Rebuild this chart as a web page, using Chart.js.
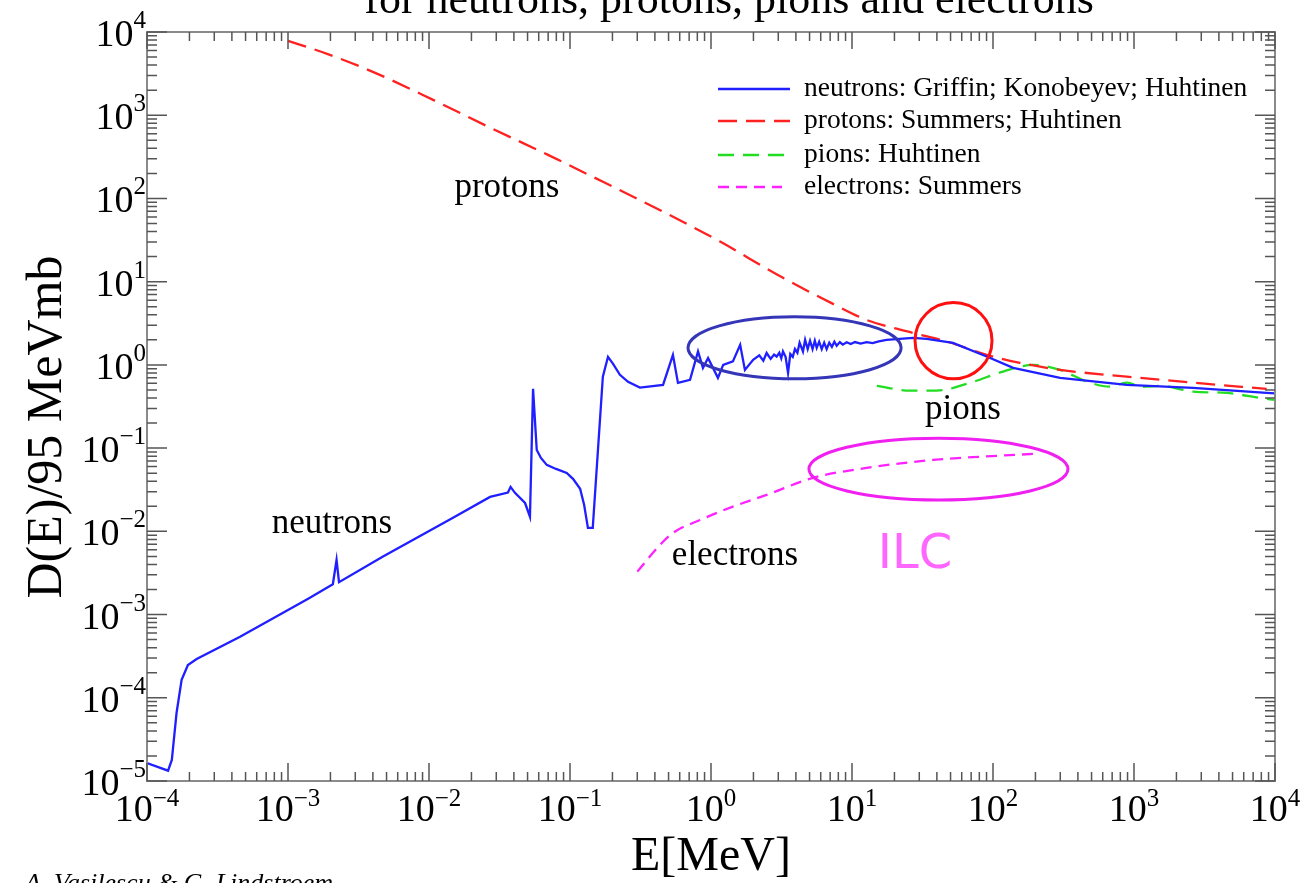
<!DOCTYPE html>
<html>
<head>
<meta charset="UTF-8">
<title>Displacement damage functions</title>
<script src="https://cdn.jsdelivr.net/npm/chart.js"></script>
<style>
  html, body { margin: 0; padding: 0; background: #fff; }
  #wrap { width: 1306px; height: 883px; position: relative; }
</style>
</head>
<body>
<div id="wrap"><canvas id="chart"></canvas></div>
<script>
// E in MeV, D(E)/95 MeVmb
var neutronE = [1.0e-4, 1.41e-4, 1.50e-4, 1.62e-4, 1.76e-4, 1.95e-4, 2.25e-4, 4.57e-4, 1.39e-3, 2.08e-3,
  2.21e-3, 2.30e-3, 4.72e-3, 1.48e-2, 2.71e-2, 3.63e-2, 3.79e-2, 4.07e-2, 4.80e-2, 5.20e-2,
  5.47e-2, 5.81e-2, 6.22e-2, 6.84e-2, 7.96e-2, 9.48e-2, 0.105, 0.118, 0.126, 0.134,
  0.145, 0.171, 0.186, 0.202, 0.226, 0.258, 0.313, 0.457, 0.537, 0.583,
  0.710, 0.809, 0.877, 0.953, 1.12, 1.22, 1.43, 1.61, 1.74, 1.99,
  2.2, 2.35, 2.48, 2.65, 2.8, 2.92, 3.05, 3.15, 3.24, 3.38,
  3.52, 3.65, 3.80, 3.94, 4.1, 4.25, 4.49, 4.65, 4.85, 5.04,
  5.25, 5.45, 5.62, 5.85, 6.1, 6.35, 6.61, 6.9, 7.2, 7.5,
  7.79, 8.2, 8.6, 9.17, 9.8, 10.5, 11.5, 12.7, 14, 15.5,
  17.6, 27.1, 33.9, 52.0, 90.2, 139, 299, 887, 2620, 8730, 1e4];
var neutronD = [1.64e-5, 1.33e-5, 1.79e-5, 6.56e-5, 1.64e-4, 2.48e-4, 2.92e-4, 5.42e-4, 1.55e-3, 2.31e-3,
  4.53e-3, 2.45e-3, 4.98e-3, 1.46e-2, 2.59e-2, 2.92e-2, 3.42e-2, 2.90e-2, 2.19e-2, 1.50e-2,
  0.515, 9.5e-2, 7.62e-2, 6.28e-2, 5.62e-2, 5.04e-2, 4.27e-2, 3.24e-2, 2.07e-2, 1.10e-2,
  1.10e-2, 0.723, 1.25, 1.03, 0.759, 0.625, 0.533, 0.575, 1.32, 0.608,
  0.661, 1.45, 0.920, 1.21, 0.698, 1.0, 1.10, 1.74, 0.871, 1.15,
  1.30, 1.12, 1.39, 1.18, 1.33, 1.26, 1.40, 1.20, 1.45, 1.25,
  0.80, 1.35, 1.25, 1.55, 1.40, 1.85, 1.45, 2.0, 1.55, 1.95,
  1.55, 1.95, 1.60, 1.90, 1.55, 1.85, 1.55, 1.85, 1.65, 1.90,
  1.70, 1.88, 1.75, 1.87, 1.78, 1.88, 1.80, 1.88, 1.83, 1.92,
  2.0, 2.11, 2.05, 1.84, 1.26, 0.920, 0.698, 0.575, 0.530, 0.460, 0.455];

var protonE = [1e-3, 1.98e-3, 4.19e-3, 1.07e-2, 2.73e-2, 6.98e-2, 0.177, 0.454, 1.16, 2.96,
  7.57, 12.7, 27.1, 47.0, 90.2, 155, 299, 887, 2620, 8730];
var protonD = [7830, 5320, 3210, 1530, 706, 334, 154, 69.7, 30.3, 12.1,
  5.26, 3.47, 2.42, 1.91, 1.32, 1.06, 0.871, 0.723, 0.612, 0.515];

var pionE = [15.0, 25.8, 39.9, 68.7, 118, 192, 299, 462, 676, 887, 1160, 1530, 2620, 4540, 7830, 1e4];
var pionD = [0.560, 0.491, 0.491, 0.608, 0.832, 1.0, 0.871, 0.630, 0.548, 0.612, 0.545, 0.560, 0.478, 0.460, 0.401, 0.379];

var electronE = [0.3, 0.435, 0.537, 0.836, 1.43, 2.48, 5.28, 12.7, 37.5, 84.9, 192];
var electronD = [3.28e-3, 6.87e-3, 9.57e-3, 1.37e-2, 1.98e-2, 2.74e-2, 4.39e-2, 5.78e-2, 7.21e-2, 7.91e-2, 8.51e-2];

var xExponents = [-4, -3, -2, -1, 0, 1, 2, 3, 4];
var yExponents = [-5, -4, -3, -2, -1, 0, 1, 2, 3, 4];

// text labels and highlight ellipses placed in data space
var curveLabels = [
  { text: "protons", x: 0.0357, y: 134 },
  { text: "neutrons", x: 2.05e-3, y: 0.0123 },
  { text: "electrons", x: 1.48, y: 5.06e-3 },
  { text: "pions", x: 61.2, y: 0.288 }
];
var ellipses = [
  { x1: 0.687, x2: 22.3, y1: 0.68, y2: 3.78, color: "#3535b8" },
  { x1: 28.0, x2: 98.4, y1: 0.68, y2: 5.61, color: "#ff1010" },
  { x1: 4.95, x2: 340, y1: 0.0238, y2: 0.1316, color: "#f020f0" }
];

function pts(xs, ys) {
  return xs.map(function (x, i) { return { x: x, y: ys[i] }; });
}

function expText(e) {
  return e < 0 ? "\u2212" + Math.abs(e) : String(e);
}

var SERIF = '"Liberation Serif", "Times New Roman", serif';

var decor = {
  id: "decor",
  afterDatasetsDraw: function (chart) {
    var ctx = chart.ctx, xs = chart.scales.x, ys = chart.scales.y, a = chart.chartArea;
    ctx.save();

    // ellipses
    ctx.setLineDash([]);
    ctx.lineWidth = 3;
    ellipses.forEach(function (e) {
      var l = xs.getPixelForValue(e.x1), r = xs.getPixelForValue(e.x2);
      var t = ys.getPixelForValue(e.y2), b = ys.getPixelForValue(e.y1);
      ctx.strokeStyle = e.color;
      ctx.beginPath();
      ctx.ellipse((l + r) / 2, (t + b) / 2, (r - l) / 2, (b - t) / 2, 0, 0, Math.PI * 2);
      ctx.stroke();
    });

    // frame
    ctx.strokeStyle = "#8a8a8a";
    ctx.lineWidth = 2;
    ctx.strokeRect(a.left, a.top, a.right - a.left, a.bottom - a.top);

    // inward ticks on all four sides
    ctx.strokeStyle = "#555";
    ctx.lineWidth = 1.5;
    ctx.beginPath();
    xExponents.forEach(function (e) {
      for (var m = 1; m <= 9; m++) {
        if (e === 4 && m > 1) break;
        var px = xs.getPixelForValue(m * Math.pow(10, e));
        var major = m === 1;
        ctx.moveTo(px, a.bottom); ctx.lineTo(px, a.bottom - (major ? 18 : 9));
        ctx.moveTo(px, a.top); ctx.lineTo(px, a.top + (major ? 17 : 9));
      }
    });
    yExponents.forEach(function (e) {
      for (var m = 1; m <= 9; m++) {
        if (e === 4 && m > 1) break;
        var py = ys.getPixelForValue(m * Math.pow(10, e));
        var major = m === 1;
        ctx.moveTo(a.left, py); ctx.lineTo(a.left + (major ? 20 : 10), py);
        ctx.moveTo(a.right, py); ctx.lineTo(a.right - (major ? 20 : 10), py);
      }
    });
    ctx.stroke();

    // tick labels 10^n
    ctx.fillStyle = "#000";
    ctx.textBaseline = "alphabetic";
    ctx.textAlign = "left";
    function pow10(exp, cb) {
      ctx.font = "38px " + SERIF;
      var w1 = ctx.measureText("10").width;
      ctx.font = "25px " + SERIF;
      var w2 = ctx.measureText(expText(exp)).width;
      cb(w1, w2);
    }
    xExponents.forEach(function (e) {
      var px = xs.getPixelForValue(Math.pow(10, e));
      pow10(e, function (w1, w2) {
        var sx = px - (w1 + w2) / 2;
        ctx.font = "38px " + SERIF; ctx.fillText("10", sx, 821);
        ctx.font = "25px " + SERIF; ctx.fillText(expText(e), sx + w1, 806);
      });
    });
    yExponents.forEach(function (e) {
      var py = ys.getPixelForValue(Math.pow(10, e));
      pow10(e, function (w1, w2) {
        var sx = a.left - 1 - (w1 + w2);
        ctx.font = "38px " + SERIF; ctx.fillText("10", sx, py + 14);
        ctx.font = "25px " + SERIF; ctx.fillText(expText(e), sx + w1, py - 4);
      });
    });

    // axis titles
    ctx.font = "48px " + SERIF;
    ctx.textAlign = "center";
    ctx.fillText("E[MeV]", (a.left + a.right) / 2, 870);
    ctx.save();
    ctx.translate(61, 427);
    ctx.rotate(-Math.PI / 2);
    ctx.font = "50px " + SERIF;
    ctx.fillText("D(E)/95 MeVmb", 0, 0);
    ctx.restore();

    // clipped title at the top and credit at the bottom
    ctx.font = "44px " + SERIF;
    ctx.fillText("for neutrons, protons, pions and electrons", 729, 13);
    ctx.font = "italic 26px " + SERIF;
    ctx.textAlign = "left";
    ctx.fillText("A. Vasilescu & G. Lindstroem", 25, 891);

    // curve labels
    ctx.font = "35px " + SERIF;
    ctx.textAlign = "center";
    ctx.textBaseline = "middle";
    curveLabels.forEach(function (c) {
      ctx.fillText(c.text, xs.getPixelForValue(c.x), ys.getPixelForValue(c.y));
    });
    ctx.fillStyle = "#ff66ff";
    ctx.font = '48px "DejaVu Sans", sans-serif';
    ctx.fillText("ILC", xs.getPixelForValue(28), ys.getPixelForValue(5.06e-3));

    // legend
    var rows = [89, 121, 155, 187];
    ctx.textAlign = "left";
    ctx.fillStyle = "#000";
    ctx.font = "27.5px " + SERIF;
    chart.data.datasets.forEach(function (ds, i) {
      ctx.strokeStyle = ds.borderColor;
      ctx.lineWidth = ds.borderWidth;
      ctx.setLineDash(ds.borderDash || []);
      ctx.beginPath();
      ctx.moveTo(718, rows[i]);
      ctx.lineTo(i === 3 ? 782 : 790, rows[i]);
      ctx.stroke();
      ctx.fillText(ds.label, 804, rows[i]);
    });
    ctx.restore();
  }
};

var config = {
  type: "scatter",
  data: {
    datasets: [
      { label: "neutrons: Griffin; Konobeyev; Huhtinen", data: pts(neutronE, neutronD),
        borderColor: "#1f1fff", borderWidth: 2.3, tension: 0 },
      { label: "protons: Summers; Huhtinen", data: pts(protonE, protonD),
        borderColor: "#ff2020", borderWidth: 2.3, borderDash: [19, 9], cubicInterpolationMode: "monotone" },
      { label: "pions: Huhtinen", data: pts(pionE, pionD),
        borderColor: "#22dd22", borderWidth: 2.3, borderDash: [16, 9], cubicInterpolationMode: "monotone" },
      { label: "electrons: Summers", data: pts(electronE, electronD),
        borderColor: "#ff22ff", borderWidth: 2.3, borderDash: [11, 7], cubicInterpolationMode: "monotone" }
    ]
  },
  options: {
    responsive: true,
    maintainAspectRatio: false,
    animation: false,
    showLine: true,
    elements: { point: { radius: 0, hoverRadius: 0 } },
    layout: { padding: { left: 147, right: 31, top: 32, bottom: 102 } },
    plugins: { legend: { display: false }, tooltip: { enabled: false } },
    scales: {
      x: { type: "logarithmic", min: 1e-4, max: 1e4, display: false },
      y: { type: "logarithmic", min: 1e-5, max: 1e4, display: false }
    }
  },
  plugins: [decor]
};

var myChart = new Chart(document.getElementById("chart"), config);
</script>
</body>
</html>
